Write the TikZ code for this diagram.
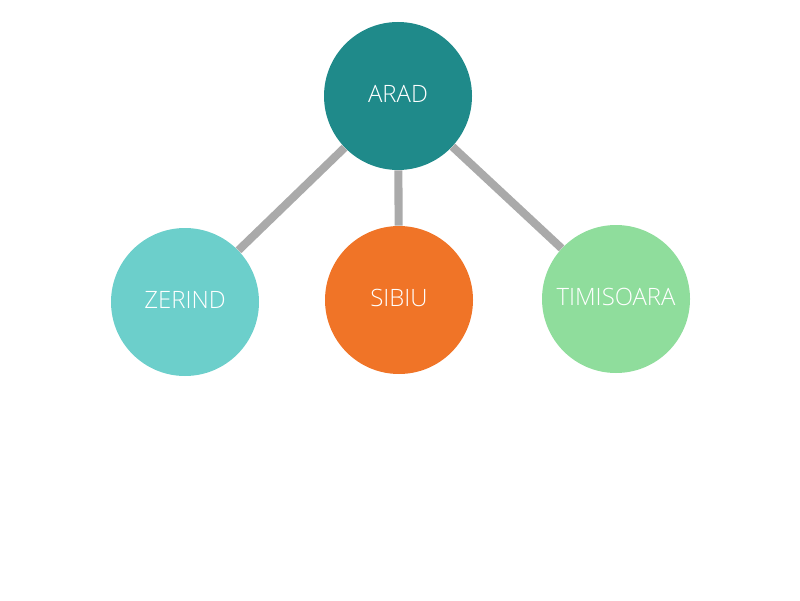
\documentclass[tikz,border=0pt]{standalone}
\usepackage{fontspec}
\setmainfont{Open Sans}
\newfontfamily\lightfont{Open Sans Light}
\definecolor{aradcol}{HTML}{1F8A8A}
\definecolor{zerindcol}{HTML}{6CCFCB}
\definecolor{sibiucol}{HTML}{F07427}
\definecolor{timicol}{HTML}{8FDD9C}
\definecolor{edgecol}{HTML}{AAAAAA}
\tikzset{
  city/.style={circle, minimum size=2.96cm, inner sep=0pt, text=white,
    text depth=2.5pt, font=\lightfont\fontsize{13.6}{16}\selectfont},
  road/.style={line width=4.6pt, draw=edgecol}
}

\begin{document}
\begin{tikzpicture}[]
\useasboundingbox (0, 0) rectangle (16, 12);
%\draw[help lines] (0, 0) grid (16, 12);
\node [city, fill=aradcol] (arad) at (7.96, 10.08) {ARAD};
\node [city, fill=zerindcol] (zerind) at (3.70, 5.96) {ZERIND};
\node [city, fill=sibiucol] (sibiu) at (7.98, 6.00) {SIBIU};
\node [city, fill=timicol] (timisoara) at (12.32, 6.02) {TIMISOARA};

\draw [road] (arad) -- (zerind);
\draw [road] (arad) -- (sibiu);
\draw [road] (arad) -- (timisoara);
\end{tikzpicture}
\end{document}
